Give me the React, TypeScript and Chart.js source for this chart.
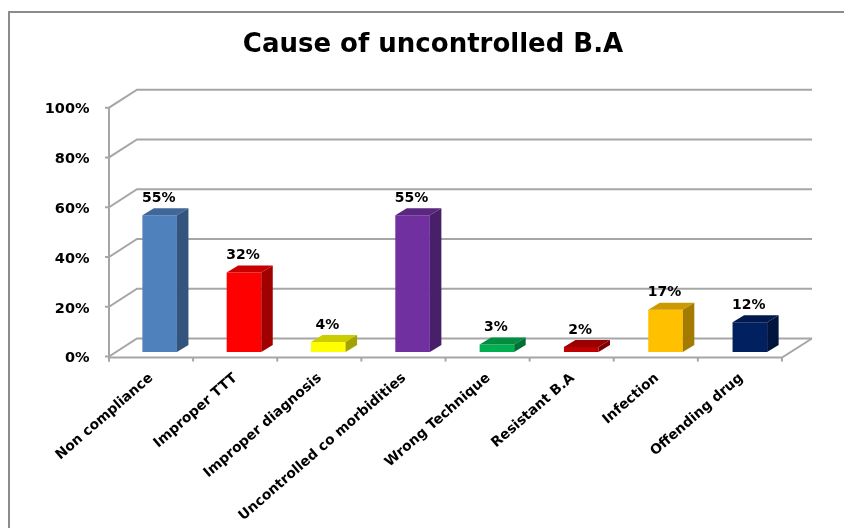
import React, { useEffect, useRef } from "react";
import { Chart, registerables } from "chart.js";

Chart.register(...registerables);

const titleText = "Cause of uncontrolled B.A";
const categories = [
  "Non compliance",
  "Improper TTT",
  "Improper diagnosis",
  "Uncontrolled co morbidities",
  "Wrong Technique",
  "Resistant B.A",
  "Infection",
  "Offending drug",
];
const values = [55, 32, 4, 55, 3, 2, 17, 12];
const frontColors = ["#4F81BD", "#FF0000", "#FFFF00", "#7030A0", "#00B050", "#C00000", "#FFC000", "#002060"];
const topColors = ["#3F6797", "#C80000", "#CCCC00", "#5A2680", "#008D40", "#9A0000", "#CC9A00", "#001A4D"];
const sideColors = ["#33547C", "#A00000", "#A3A300", "#48206A", "#007034", "#7B0000", "#A37B00", "#00143E"];

const FONT = '"DejaVu Sans", sans-serif';
const GRID = "#A6A6A6";

const wall = { frontDrop: 4.5, backDx: 28, backDy: 18, rightDx: 29 };
const barDepth = { dx: 11.5, dy: 7 };

const scene3d = {
  id: "scene3d",
  afterLayout(chart: any) {
    // The y labels sit left of the narrow axis box; widen the box they are clipped to.
    chart.scales.y.left = 0;
  },
  beforeDatasetsDraw(chart: any) {
    const { ctx, scales } = chart;
    const y = scales.y;
    const x = scales.x;
    const left = x.left - 8.5;
    const right = x.right - 10;
    ctx.save();
    ctx.lineCap = "butt";
    ctx.strokeStyle = "#8C8C8C";
    ctx.lineWidth = 2;
    ctx.strokeRect(9, 12, 900, 600);

    ctx.strokeStyle = GRID;
    ctx.lineWidth = 2;
    const zeroFront = y.getPixelForValue(0) + wall.frontDrop;
    y.ticks.forEach((t: any) => {
      const py = y.getPixelForValue(t.value) + wall.frontDrop;
      ctx.beginPath();
      ctx.moveTo(left - 4, py);
      ctx.lineTo(left, py);
      ctx.lineTo(left + wall.backDx, py - wall.backDy);
      ctx.lineTo(right + wall.rightDx + 1, py - wall.backDy);
      ctx.stroke();
    });
    ctx.beginPath();
    ctx.moveTo(left, y.getPixelForValue(100) + wall.frontDrop);
    ctx.lineTo(left, zeroFront + 5);
    ctx.stroke();

    ctx.beginPath();
    ctx.moveTo(left, zeroFront + 1);
    ctx.lineTo(right, zeroFront + 1);
    ctx.lineTo(right + wall.rightDx + 1, zeroFront - wall.backDy);
    ctx.stroke();
    for (let i = 0; i <= categories.length; i++) {
      const px = left + ((right - left) * i) / categories.length;
      ctx.beginPath();
      ctx.moveTo(px, zeroFront + 1);
      ctx.lineTo(px, zeroFront + 5);
      ctx.stroke();
    }
    ctx.restore();
  },
  afterDatasetsDraw(chart: any) {
    const { ctx } = chart;
    const bars = chart.getDatasetMeta(0).data;
    ctx.save();
    bars.forEach((bar: any, i: number) => {
      const { x, y, base, width } = bar.getProps(["x", "y", "base", "width"], true);
      const l = x - width / 2;
      const r = x + width / 2;
      ctx.fillStyle = topColors[i];
      ctx.beginPath();
      ctx.moveTo(l, y);
      ctx.lineTo(l + barDepth.dx, y - barDepth.dy);
      ctx.lineTo(r + barDepth.dx, y - barDepth.dy);
      ctx.lineTo(r, y);
      ctx.closePath();
      ctx.fill();
      ctx.fillStyle = sideColors[i];
      ctx.beginPath();
      ctx.moveTo(r, y);
      ctx.lineTo(r + barDepth.dx, y - barDepth.dy);
      ctx.lineTo(r + barDepth.dx, base - barDepth.dy);
      ctx.lineTo(r, base);
      ctx.closePath();
      ctx.fill();
      ctx.fillStyle = "#000000";
      ctx.font = `bold 14px ${FONT}`;
      ctx.textAlign = "center";
      ctx.textBaseline = "alphabetic";
      ctx.fillText(`${values[i]}%`, x - 1, y - 13.5);
    });
    ctx.restore();
  },
};

export default function App() {
  const ref = useRef<HTMLCanvasElement>(null);
  useEffect(() => {
    const chart = new Chart(ref.current as HTMLCanvasElement, {
      type: "bar",
      data: {
        labels: categories,
        datasets: [
          {
            data: values,
            backgroundColor: frontColors,
            barPercentage: 0.41,
            categoryPercentage: 1,
            borderWidth: 0,
          },
        ],
      },
      plugins: [scene3d],
      options: {
        animation: false,
        responsive: false,
        devicePixelRatio: 1,
        layout: { padding: { top: 0, left: 74, right: 52, bottom: 0 } },
        plugins: {
          legend: { display: false },
          tooltip: { enabled: false },
          title: {
            display: true,
            text: titleText,
            color: "#000000",
            font: { family: FONT, size: 26, weight: "bold" },
            padding: { top: 30, bottom: 42 },
          },
        },
        scales: {
          x: {
            grid: { display: false },
            border: { display: false },
            afterFit(s: any) {
              s.height = 176;
            },
            ticks: {
              autoSkip: false,
              minRotation: 41,
              maxRotation: 41,
              padding: 10,
              labelOffset: -8.5,
              color: "#000000",
              font: { family: FONT, size: 13.8, weight: "bold" },
            },
          },
          y: {
            min: 0,
            max: 100,
            grid: { display: false },
            border: { display: false },
            afterFit(s: any) {
              s.width = 43.5;
            },
            ticks: {
              stepSize: 20,
              padding: 20,
              labelOffset: 6.5,
              color: "#000000",
              font: { family: FONT, size: 14.5, weight: "bold" },
              callback: (v: any) => `${v}%`,
            },
          },
        },
      },
    } as any);
    return () => chart.destroy();
  }, []);
  return (
    <div style={{ position: "absolute", left: 0, top: 0, width: 844, height: 528, overflow: "hidden", background: "#fff" }}>
      <canvas ref={ref} width={844} height={528} style={{ display: "block" }} />
    </div>
  );
}
